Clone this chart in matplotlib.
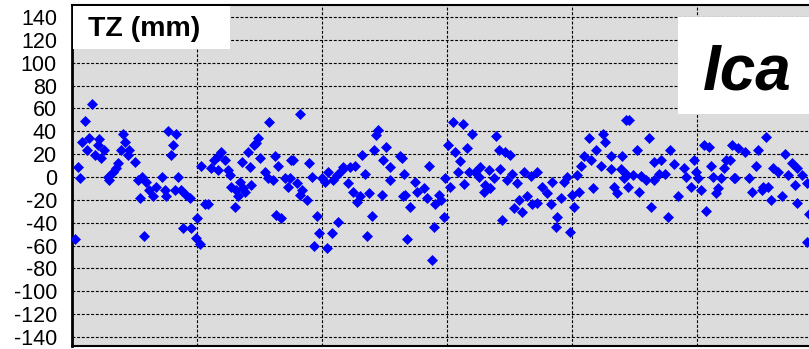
import matplotlib
matplotlib.use("Agg")
import matplotlib.pyplot as plt
from matplotlib.patches import Rectangle

# Sample position (days along the record) and TZ offset in mm
day = [20, 13, 10, 17, 15, 27, 26, 32, 29, 23, 6, 8, 37, 41, 46, 36, 44, 51, 53, 49,
       57, 63, 56, 96, 104, 101, 99, 66, 70, 74, 68, 77, 81, 84, 90, 93, 94, 103, 106, 72,
       3,
       197, 186, 184, 182, 176, 188, 149, 146, 142, 153, 129, 139, 146, 156, 158, 170, 178, 203, 206,
       219, 193, 196, 201, 213, 216, 159, 164, 168, 171, 179, 166, 173, 163, 109, 114, 118, 133, 136,
       125, 111, 119, 124, 128, 204, 209,
       228, 306, 304, 302, 314, 221, 237, 290, 311, 328, 318, 218, 225, 230, 228, 235, 240, 250, 253,
       256, 261, 265, 270, 278, 283, 271, 293, 276, 281, 288, 285, 297, 310, 318, 331, 245, 266, 300,
       247, 260, 295, 242, 255,
       381, 391, 400, 424, 376, 383, 395, 388, 427, 433, 438, 330, 357, 386, 397, 408, 417, 428, 440,
       332, 373, 378, 392, 403, 407, 413, 412, 418, 422, 435, 333, 343, 345, 352, 355, 338, 367, 369,
       363, 372, 362, 335, 360, 430, 442,
       554, 517, 531, 533, 524, 512, 519, 539, 550, 509, 529, 539, 549, 552, 452, 459, 465, 445, 480,
       492, 495, 505, 470, 475, 489, 479, 500, 507, 502, 521, 542, 545, 447, 455, 450, 460, 465, 485,
       484, 498,
       557, 577, 565, 598, 632, 637, 660, 582, 589, 602, 622, 639, 654, 652, 554, 561, 569, 574, 582,
       587, 593, 612, 614, 624, 626, 619, 629, 641, 649, 662, 646, 644, 556, 567, 606, 579, 634, 596,
       694, 666, 673, 686, 713, 658, 684, 701, 706, 720, 725, 730, 735, 716, 723, 663, 677, 680, 691,
       696, 690, 699, 710, 725, 735, 737]

tz = [64, 49, 31, 34, 24, 33, 28, 24, 17, 19, 9, -1, -3, 4, 12, 0, 8, 38, 31, 24,
      24, 13, 19, 40, 38, 28, 19, -3, 0, -4, -18, -11, -17, -9, 0, -11, -17, -11, 0, -52,
      -54,
      48, 34, 30, 28, 22, 17, 22, 18, 15, 15, 10, 8, 6, 6, 2, 13, 9, 18, 10,
      15, 4, -1, -3, -1, -9, -9, -11, -4, -10, -7, -17, -13, -26, -11, -16, -18, -24, -24,
      -36, -45, -45, -53, -59, -33, -36,
      55, 41, 37, 24, 26, 15, 12, 19, 15, 18, 9, -1, -5, -11, -16, -20, 0, -1, -4,
      4, -3, 2, 6, 9, 10, 9, 3, -5, -13, -17, -22, -14, -16, -3, -17, -34, -39, -34,
      -49, -49, -52, -60, -62,
      48, 46, 38, 36, 28, 22, 25, 14, 24, 22, 19, 17, 10, 4, 4, 9, 6, 7, 3,
      3, -1, -9, -6, 4, 0, -7, -13, -10, -1, -3, -16, -4, -13, -10, -18, -26, -16, -20,
      -24, -35, -44, -54, -73, -38, -27,
      50, 34, 38, 31, 24, 18, 15, 18, 18, 10, 10, 7, 7, -1, 4, 1, 4, -5, -4,
      -4, 0, 2, -9, -14, -18, -24, -16, -13, -26, -10, -9, -14, -20, -17, -31, -24, -23, -35,
      -44, -48,
      50, 34, 24, 24, 28, 26, 28, 13, 15, 11, 15, 10, 15, 8, 3, 2, 1, -3, -3,
      3, 3, 8, 0, 4, -1, -9, -11, 0, -1, -1, -10, -14, -9, -13, -17, -26, -30, -35,
      35, 25, 22, 24, 20, 15, 10, 8, 4, 12, 8, 2, -5, 2, -7, -1, -1, -13, -9,
      -9, -11, -20, -17, -23, -57, -32]

y_ticks = list(range(-140, 141, 20))
x_grid = list(range(0, 751, 125))

W, H = 809, 349
fig = plt.figure(figsize=(W / 100, H / 100), dpi=100)
fig.patch.set_facecolor("white")
plt.rcParams["font.family"] = ["Liberation Sans", "DejaVu Sans"]


def fx(px):
    return px / W


def fy(py):
    return 1 - py / H


ax = fig.add_axes([fx(72), fy(346), fx(822) - fx(72), fy(5) - fy(346)])
ax.set_facecolor("#dcdcdc")
ax.set_xlim(0, 750)
ax.set_ylim(-147.9, 150.5)
ax.set_yticks(y_ticks)
ax.set_yticklabels([str(v) for v in y_ticks], family="Liberation Sans")
ax.set_xticks(x_grid)
ax.tick_params(axis="x", length=0, labelbottom=False)
ax.tick_params(axis="y", length=0, pad=10.8, labelsize=15.5)
ax.grid(True, color="black", linestyle=(0, (2.6, 1.6)), linewidth=0.8)
ax.set_axisbelow(True)

ax.plot(day, tz, linestyle="none", marker="D", ms=4.6,
        color="#0000ff", mec="#0000ff", mew=0.5, zorder=3)

ax.spines["left"].set_linewidth(2.0)
ax.spines["top"].set_linewidth(1.5)
ax.spines["bottom"].set_linewidth(1.5)
ax.spines["right"].set_visible(False)
for s in ax.spines.values():
    s.set_color("black")

# Title box, top left
fig.add_artist(Rectangle((fx(73), fy(49)), fx(230) - fx(73), fy(6) - fy(49),
                         transform=fig.transFigure, facecolor="white",
                         edgecolor="none", zorder=5))
fig.text(fx(88), fy(36), "TZ (mm)", fontsize=20.5, fontweight="bold",
         family="Liberation Sans", va="baseline", ha="left", zorder=6)

# Station box, top right
fig.add_artist(Rectangle((fx(678), fy(114)), fx(830) - fx(678), fy(17) - fy(114),
                         transform=fig.transFigure, facecolor="white",
                         edgecolor="none", zorder=5))
fig.text(fx(703), fy(89), "Ica", fontsize=46, fontweight="bold", style="italic",
         family="Liberation Sans", va="baseline", ha="left", zorder=6)

fig.savefig("out.png", dpi=100)
